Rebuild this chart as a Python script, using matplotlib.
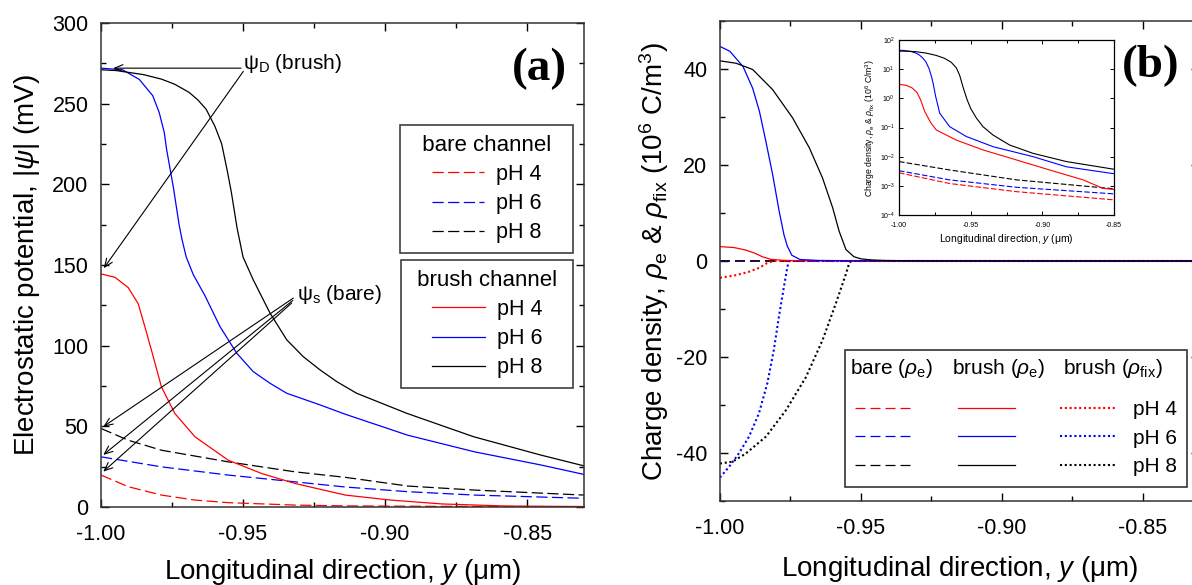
import matplotlib
matplotlib.use('Agg')
import matplotlib.pyplot as plt
from matplotlib.ticker import MultipleLocator, LogLocator, NullLocator, FormatStrFormatter

plt.rcParams['font.family'] = ['Liberation Sans', 'DejaVu Sans']
plt.rcParams['mathtext.fontset'] = 'custom'
plt.rcParams['mathtext.rm'] = 'Liberation Sans'
plt.rcParams['mathtext.it'] = 'Liberation Sans:italic'
plt.rcParams['mathtext.bf'] = 'Liberation Sans:bold'
plt.rcParams['axes.unicode_minus'] = False

RED, BLUE, BLACK = '#ff0000', '#0000ff', '#000000'

# ---------- panel (a): electrostatic potential |psi| (mV) ----------
# brush channel (solid)
ya_br8 = [-1.000, -0.9945, -0.9904, -0.985, -0.9787, -0.974, -0.969, -0.966, -0.963, -0.9599,
          -0.9575, -0.9555, -0.9541, -0.9521, -0.950, -0.9464, -0.9405, -0.9346, -0.9288, -0.9229,
          -0.917, -0.910, -0.8924, -0.8689, -0.8454, -0.830]
psi_br8 = [271, 270.5, 269.4, 268, 265.2, 262, 257, 252.5, 246.6, 236,
           225, 208, 195, 173, 155, 140.8, 120.2, 103.6, 93.2, 85,
           77.7, 70.5, 58.1, 43.6, 32.3, 25.5]
ya_br6 = [-1.000, -0.9924, -0.9865, -0.9818, -0.9795, -0.9777, -0.9769, -0.9745, -0.9725, -0.9715,
          -0.970, -0.9675, -0.9634, -0.9581, -0.9522, -0.9464, -0.9405, -0.9346, -0.9229, -0.914,
          -0.892, -0.8685, -0.845, -0.830]
psi_br6 = [272, 271, 265, 255, 244.5, 232, 221.7, 198, 175, 166,
           155, 144, 131, 111.8, 95.3, 83.9, 76.7, 70.5, 63.3, 57.5,
           44.5, 34.2, 26, 20.2]
ya_br4 = [-1.000, -0.9951, -0.9904, -0.9869, -0.9845, -0.9822, -0.9787, -0.974, -0.9669, -0.9552,
          -0.9435, -0.9317, -0.914, -0.898, -0.880, -0.857, -0.830]
psi_br4 = [144.5, 142.4, 136, 126, 111.5, 97, 74.4, 58, 43.5, 29,
           20.8, 14.6, 7.4, 4.3, 1.9, 0.6, 0.3]
# bare channel (dashed)
ya_ba8 = [-1.000, -0.9904, -0.9787, -0.9552, -0.9317, -0.914, -0.892, -0.8685, -0.830]
psi_ba8 = [48.7, 41.4, 35.2, 28, 21.8, 18.4, 13, 10.5, 7.4]
ya_ba6 = [-1.000, -0.9787, -0.9552, -0.9317, -0.914, -0.892, -0.8685, -0.830]
psi_ba6 = [31.1, 24.9, 19.8, 15.6, 12.4, 9.5, 7.4, 5.4]
ya_ba4 = [-1.000, -0.9904, -0.9787, -0.9669, -0.9552, -0.9317, -0.914, -0.880, -0.830]
psi_ba4 = [19.8, 12.6, 7.4, 4.3, 2.7, 1.2, 0.7, 0.4, 0.2]

# ---------- panel (b): charge density (10^6 C/m^3) ----------
# brush rho_e (solid)
yb_br8 = [-1.000, -0.9943, -0.9884, -0.9813, -0.9742, -0.9683, -0.9636, -0.960, -0.9577, -0.9553,
          -0.9525, -0.950, -0.946, -0.9414, -0.9344, -0.9228, -0.9065, -0.8833, -0.850, -0.830]
rho_br8 = [41.7, 41.2, 39.9, 35.7, 29.8, 23.6, 17.3, 11.1, 6.2, 2.4,
           0.9, 0.45, 0.21, 0.107, 0.055, 0.025, 0.013, 0.0068, 0.0037, 0.003]
yb_br6 = [-1.000, -0.9965, -0.9918, -0.9884, -0.986, -0.9837, -0.9813, -0.979, -0.9773, -0.9761,
          -0.9745, -0.9716, -0.9647, -0.953, -0.9344, -0.9065, -0.8833, -0.850, -0.830]
rho_br6 = [44.7, 43.7, 40.5, 36, 31.2, 24.9, 18, 10.4, 5.5, 3.1,
           1.2, 0.31, 0.107, 0.049, 0.022, 0.01, 0.0045, 0.0026, 0.002]
yb_br4 = [-1.000, -0.995, -0.991, -0.9875, -0.985, -0.982, -0.978, -0.974, -0.960, -0.9414,
          -0.918, -0.895, -0.8716, -0.8577, -0.850, -0.830]
rho_br4 = [3.0, 2.8, 2.3, 1.6, 0.9, 0.35, 0.15, 0.082, 0.037, 0.017,
           0.0077, 0.0035, 0.0016, 0.00082, 0.00075, 0.0006]
# bare rho_e (dashed)
yb_ba8 = [-1.000, -0.9647, -0.918, -0.850, -0.830]
rho_ba8 = [0.0068, 0.0035, 0.0016, 0.00079, 0.0006]
yb_ba6 = [-1.000, -0.9647, -0.918, -0.850, -0.830]
rho_ba6 = [0.0033, 0.0016, 0.00089, 0.00053, 0.00045]
yb_ba4 = [-1.000, -0.9647, -0.918, -0.850, -0.830]
rho_ba4 = [0.0028, 0.0012, 0.00063, 0.00033, 0.00028]
# brush rho_fix (dotted)
yb_fx8 = [-1.000, -0.9955, -0.9908, -0.9837, -0.9766, -0.9695, -0.9636, -0.9589, -0.9553, -0.9542,
          -0.9535, -0.830]
rho_fx8 = [-42.2, -41.8, -40.1, -36.6, -31.1, -24.2, -16.5, -8.9, -2.7, -0.6,
           0, 0]
yb_fx6 = [-1.000, -0.9968, -0.9933, -0.9897, -0.9862, -0.9832, -0.9809, -0.9791, -0.9773, -0.9761,
          -0.9755, -0.830]
rho_fx6 = [-45.1, -42.9, -40.1, -36.6, -31.8, -25.5, -18.6, -11.7, -5.4, -1.3,
           0, 0]
yb_fx4 = [-1.000, -0.9947, -0.990, -0.986, -0.9833, -0.981, -0.830]
rho_fx4 = [-3.5, -3.0, -2.3, -1.4, -0.45, 0, 0]

LW = 0.9
DASH = (0, (9, 3.5))
DOT = (0, (1, 1.3))


def style_axes(ax, size):
    ax.tick_params(which='both', direction='in', top=True, right=True, labelsize=size)
    ax.tick_params(axis='x', which='major', length=6, width=1.0, pad=12)
    ax.tick_params(axis='y', which='major', length=6, width=1.0, pad=9)
    ax.tick_params(which='minor', length=3.5, width=1.0)
    for s in ax.spines.values():
        s.set_linewidth(1.1)
        s.set_color('0.2')


fig = plt.figure(figsize=(11.92, 5.85), dpi=100)
ax_a = fig.add_axes([0.0847, 0.1333, 0.4052, 0.8274])
ax_b = fig.add_axes([0.6040, 0.1436, 0.4018, 0.8205])
ax_in = fig.add_axes([0.7542, 0.6325, 0.1804, 0.2991])

# ----- panel (a) -----
la4, = ax_a.plot(ya_ba4, psi_ba4, color=RED, lw=LW, ls=DASH)
la6, = ax_a.plot(ya_ba6, psi_ba6, color=BLUE, lw=LW, ls=DASH)
la8, = ax_a.plot(ya_ba8, psi_ba8, color=BLACK, lw=LW, ls=DASH)
lb4, = ax_a.plot(ya_br4, psi_br4, color=RED, lw=LW)
lb6, = ax_a.plot(ya_br6, psi_br6, color=BLUE, lw=LW)
lb8, = ax_a.plot(ya_br8, psi_br8, color=BLACK, lw=LW)

ax_a.set_xlim(-1.0, -0.83)
ax_a.set_ylim(0, 300)
ax_a.xaxis.set_major_locator(MultipleLocator(0.05))
ax_a.xaxis.set_minor_locator(MultipleLocator(0.025))
ax_a.xaxis.set_major_formatter(FormatStrFormatter('%.2f'))
ax_a.yaxis.set_major_locator(MultipleLocator(50))
ax_a.yaxis.set_minor_locator(MultipleLocator(25))
style_axes(ax_a, 15.5)
ax_a.set_xlabel('Longitudinal direction, $y$ (μm)', fontsize=20, labelpad=9)
ax_a.set_ylabel(r'Electrostatic potential, |$\psi$| (mV)', fontsize=20, labelpad=7)
ax_a.text(0.907, 0.905, '(a)', transform=ax_a.transAxes, ha='center', va='center',
          fontsize=34, fontweight='bold', family='Liberation Serif')

arrow = dict(arrowstyle='->,head_length=0.6,head_width=0.25', color='k', lw=0.8,
             shrinkA=0, shrinkB=0)
ax_a.text(-0.9500, 275, r'ψ$_{\rm D}$ (brush)', fontsize=15, ha='left', va='center')
ax_a.annotate('', xy=(-0.9957, 272), xytext=(-0.9507, 272), arrowprops=arrow)
ax_a.annotate('', xy=(-0.9990, 148), xytext=(-0.9499, 270), arrowprops=arrow)
ax_a.text(-0.9309, 132, r'ψ$_{\rm s}$ (bare)', fontsize=15, ha='left', va='center')
ax_a.annotate('', xy=(-0.9992, 49.8), xytext=(-0.9323, 129.5), arrowprops=arrow)
ax_a.annotate('', xy=(-0.9992, 32.3), xytext=(-0.9325, 128.0), arrowprops=arrow)
ax_a.annotate('', xy=(-0.9992, 21.9), xytext=(-0.9329, 126.4), arrowprops=arrow)

leg_kw = dict(loc='upper right', bbox_transform=fig.transFigure, fontsize=15.5,
              title_fontsize=16, fancybox=False, edgecolor='0.25', framealpha=1,
              handlelength=2.45, handletextpad=0.55, labelspacing=0.38, borderpad=0.45,
              borderaxespad=0)
leg1 = ax_a.legend([la4, la6, la8], ['pH 4', 'pH 6', 'pH 8'], title='  bare channel  ',
                   bbox_to_anchor=(573 / 1192, 1 - 125 / 585), **leg_kw)
leg1.get_frame().set_linewidth(1.2)
ax_a.add_artist(leg1)
leg2 = ax_a.legend([lb4, lb6, lb8], ['pH 4', 'pH 6', 'pH 8'], title=' brush channel ',
                   bbox_to_anchor=(573 / 1192, 1 - 260 / 585), **leg_kw)
leg2.get_frame().set_linewidth(1.2)

# ----- panel (b) -----
pa4, = ax_b.plot(yb_ba4, rho_ba4, color=RED, lw=LW, ls=(0, (8, 4)))
pa6, = ax_b.plot(yb_ba6, rho_ba6, color=BLUE, lw=LW, ls=(0, (8, 4)))
pa8, = ax_b.plot(yb_ba8, rho_ba8, color=BLACK, lw=LW, ls=(0, (8, 4)))
pf4, = ax_b.plot(yb_fx4, rho_fx4, color=RED, lw=1.5, ls=DOT)
pf6, = ax_b.plot(yb_fx6, rho_fx6, color=BLUE, lw=1.5, ls=DOT)
pf8, = ax_b.plot(yb_fx8, rho_fx8, color=BLACK, lw=1.5, ls=DOT)
pb4, = ax_b.plot(yb_br4, rho_br4, color=RED, lw=LW)
pb6, = ax_b.plot(yb_br6, rho_br6, color=BLUE, lw=LW)
pb8, = ax_b.plot(yb_br8, rho_br8, color=BLACK, lw=LW)

ax_b.set_xlim(-1.0, -0.83)
ax_b.set_ylim(-50, 50)
ax_b.xaxis.set_major_locator(MultipleLocator(0.05))
ax_b.xaxis.set_minor_locator(MultipleLocator(0.025))
ax_b.xaxis.set_major_formatter(FormatStrFormatter('%.2f'))
ax_b.yaxis.set_major_locator(MultipleLocator(20))
ax_b.yaxis.set_minor_locator(MultipleLocator(10))
style_axes(ax_b, 15.5)
ax_b.set_xlabel('Longitudinal direction, $y$ (μm)', fontsize=20, labelpad=11)
ax_b.set_ylabel(r'Charge density, $\rho_{\rm e}$ & $\rho_{\rm fix}$ (10$^6$ C/m$^3$)',
                fontsize=20, labelpad=4)
ax_b.text(0.90, 0.906, '(b)', transform=ax_b.transAxes, ha='center', va='center',
          fontsize=34, fontweight='bold', family='Liberation Serif')

legb = ax_b.legend([pa4, pa6, pa8, pb4, pb6, pb8, pf4, pf6, pf8],
                   ['', '', '', '', '', '', 'pH 4', 'pH 6', 'pH 8'], ncol=3,
                   title=' ', title_fontsize=22, fontsize=15, loc='upper left',
                   bbox_to_anchor=(845 / 1192, 1 - 350 / 585), bbox_transform=fig.transFigure,
                   fancybox=False, edgecolor='0.2', framealpha=1, borderaxespad=0,
                   handlelength=2.75, handletextpad=0.75, columnspacing=1.41,
                   labelspacing=0.46, borderpad=0.5)
legb.get_frame().set_linewidth(1.2)
for xp, txt in [(850, r'bare ($\rho_{\rm e}$)'), (952, r'brush ($\rho_{\rm e}$)'),
                (1063, r'brush ($\rho_{\rm fix}$)')]:
    fig.text(xp / 1192, 1 - 369 / 585, txt, fontsize=15, ha='left', va='center', zorder=10)

# ----- inset (log scale) -----
ax_in.plot(yb_ba4, rho_ba4, color=RED, lw=0.8, ls=(0, (5, 2)))
ax_in.plot(yb_ba6, rho_ba6, color=BLUE, lw=0.8, ls=(0, (5, 2)))
ax_in.plot(yb_ba8, rho_ba8, color=BLACK, lw=0.8, ls=(0, (5, 2)))
ax_in.plot(yb_br4, rho_br4, color=RED, lw=0.8)
ax_in.plot(yb_br6, rho_br6, color=BLUE, lw=0.8)
ax_in.plot(yb_br8, rho_br8, color=BLACK, lw=0.8)
ax_in.set_yscale('log')
ax_in.set_xlim(-1.0, -0.85)
ax_in.set_ylim(1e-4, 1e2)
ax_in.yaxis.set_major_locator(LogLocator(base=10, numticks=10))
ax_in.yaxis.set_minor_locator(NullLocator())
ax_in.xaxis.set_major_locator(MultipleLocator(0.05))
ax_in.xaxis.set_minor_locator(MultipleLocator(0.025))
ax_in.xaxis.set_major_formatter(FormatStrFormatter('%.2f'))
ax_in.tick_params(which='both', direction='in', top=True, right=True, labelsize=5)
ax_in.tick_params(axis='x', which='major', length=3, width=0.7, pad=5)
ax_in.tick_params(axis='y', which='major', length=3, width=0.7, pad=3)
ax_in.tick_params(which='minor', length=2, width=0.7)
for s in ax_in.spines.values():
    s.set_linewidth(0.9)
ax_in.set_xlabel('Longitudinal direction, $y$ (μm)', fontsize=7.5, labelpad=2)
ax_in.set_ylabel(r'Charge density, $\rho_{\rm e}$ & $\rho_{\rm fix}$ (10$^6$ C/m$^3$)',
                 fontsize=6.2, labelpad=2)

fig.savefig('out.png', dpi=100)
